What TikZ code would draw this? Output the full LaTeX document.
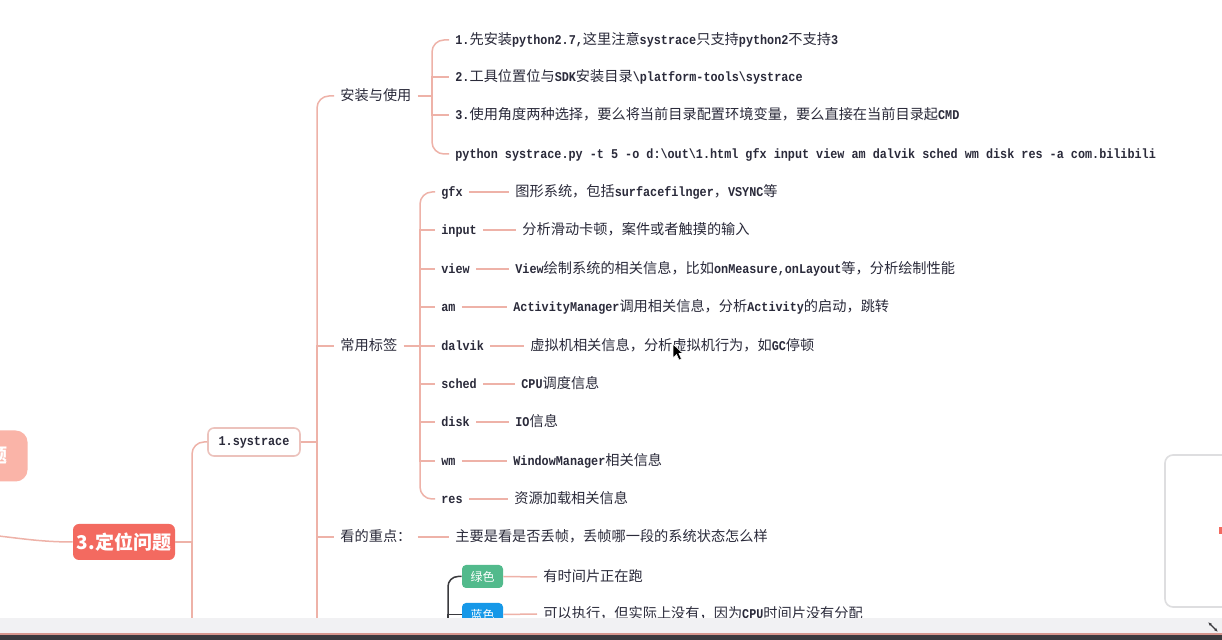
\documentclass[tikz,border=0pt]{standalone}
\usepackage{fontspec}
\setmainfont{Noto Sans CJK SC}
\newfontfamily\latfont[FakeStretch=0.88]{Liberation Mono}
\usepackage{tikz}
\usetikzlibrary{arrows.meta,positioning}
\definecolor{clrBranch}{RGB}{238,178,168}
\definecolor{clrTopic}{RGB}{243,106,96}
\definecolor{clrTopicPale}{RGB}{250,180,168}
\definecolor{clrSysEdge}{RGB}{236,194,188}
\definecolor{clrText}{RGB}{42,42,58}
\definecolor{clrGreen}{RGB}{82,186,140}
\definecolor{clrBlue}{RGB}{22,152,232}
\definecolor{clrDark}{RGB}{58,58,62}
\definecolor{clrBar}{RGB}{241,241,243}
\definecolor{clrBarLine}{RGB}{214,150,142}
\definecolor{clrPanel}{RGB}{222,222,224}
\newcommand{\lat}[1]{{\fontsize{6.7}{8}\latfont\bfseries #1}}
\tikzset{
  branch/.style={draw=clrBranch, line width=0.75pt},
  darkbranch/.style={draw=clrDark, line width=0.75pt},
  topicnode/.style={fill=clrTopic, text=white, rounded corners=3pt, font=\fontsize{9.5}{11}\selectfont\bfseries, minimum width=51pt, minimum height=18pt, inner sep=0pt},
  sysnode/.style={draw=clrSysEdge, fill=white, line width=0.8pt, rounded corners=3pt, minimum width=46pt, minimum height=14pt, inner sep=0pt, text=clrText},
  txtnode/.style={anchor=west, inner sep=3pt, text=clrText, text height=6pt, text depth=1.2pt, font=\fontsize{7.1}{9}\selectfont},
  colornode/.style={text=white, rounded corners=2pt, minimum width=20.5pt, minimum height=11.5pt, inner sep=0pt, font=\fontsize{6}{7}\selectfont}
}
\begin{document}
\begin{tikzpicture}[x=0.5pt, y=-0.5pt]

\useasboundingbox (0,0) rectangle (1222,640);
\clip (0,0) rectangle (1222,640);
\fill[white] (0,0) rectangle (1222,640);

\node[topicnode, fill=clrTopicPale, anchor=east, minimum height=25.5pt, text width=40pt, align=right, inner xsep=10pt, rounded corners=6pt]
  (prevtopic) at (28,456) {题};
\node[topicnode] (locate) at (124,542) {3.定位问题};
\node[sysnode] (sys) at (254,442) {\lat{1.systrace}};

\node[txtnode] (install) at (334,96) {安装与使用};
\node[txtnode] (inst1) at (449,40) {\lat{1.}先安装\lat{python2.7,}这里注意\lat{systrace}只支持\lat{python2}不支持\lat{3}};
\node[txtnode] (inst2) at (449,77) {\lat{2.}工具位置位与\lat{SDK}安装目录\lat{\textbackslash platform-tools\textbackslash systrace}};
\node[txtnode] (inst3) at (449,115) {\lat{3.}使用角度两种选择，要么将当前目录配置环境变量，要么直接在当前目录起\lat{CMD}};
\node[txtnode] (inst4) at (449,154) {\lat{python systrace.py -t 5 -o d:\textbackslash out\textbackslash 1.html gfx input view am dalvik sched wm disk res -a com.bilibili}};

\node[txtnode] (tags) at (334,346) {常用标签};
\node[txtnode] (gfx) at (435,192) {\lat{gfx}};
\node[txtnode] (input) at (435,230) {\lat{input}};
\node[txtnode] (view) at (435,269) {\lat{view}};
\node[txtnode] (am) at (435,307) {\lat{am}};
\node[txtnode] (dalvik) at (435,346) {\lat{dalvik}};
\node[txtnode] (sched) at (435,384) {\lat{sched}};
\node[txtnode] (disk) at (435,422) {\lat{disk}};
\node[txtnode] (wm) at (435,461) {\lat{wm}};
\node[txtnode] (res) at (435,499) {\lat{res}};

\node[txtnode] (gfxNote) at (509,192) {图形系统，包括\lat{surfacefilnger}，\lat{VSYNC}等};
\node[txtnode] (inputNote) at (516,230) {分析滑动卡顿，案件或者触摸的输入};
\node[txtnode] (viewNote) at (509,269) {\lat{View}绘制系统的相关信息，比如\lat{onMeasure,onLayout}等，分析绘制性能};
\node[txtnode] (amNote) at (507,307) {\lat{ActivityManager}调用相关信息，分析\lat{Activity}的启动，跳转};
\node[txtnode] (dalvikNote) at (524,346) {虚拟机相关信息，分析虚拟机行为，如\lat{GC}停顿};
\node[txtnode] (schedNote) at (515,384) {\lat{CPU}调度信息};
\node[txtnode] (diskNote) at (509,422) {\lat{IO}信息};
\node[txtnode] (wmNote) at (507,461) {\lat{WindowManager}相关信息};
\node[txtnode] (resNote) at (508,499) {资源加载相关信息};

\node[txtnode] (focus) at (334,537) {看的重点：};
\node[txtnode] (focusNote) at (449,537) {主要是看是否丢帧，丢帧哪一段的系统状态怎么样};

\node[colornode, fill=clrGreen] (green) at (482.5,576.5) {绿色};
\node[colornode, fill=clrBlue] (blue) at (482.5,614.5) {蓝色};
\node[txtnode] (greenNote) at (537,577) {有时间片正在跑};
\node[txtnode] (blueNote) at (537,614) {可以执行，但实际上没有，因为\lat{CPU}时间片没有分配};

\coordinate (root) at (-50,533);
\coordinate (locHub) at (192,542);
\coordinate (locLow) at (192,660);
\coordinate (sysHub) at (317,442);
\coordinate (sysLow) at (317,660);
\coordinate (instHub) at (432,96);
\coordinate (tagHub) at (420,346);
\coordinate (colHub) at (448,660);

\draw[branch] (root) to[out=0, in=180] (locate.west);
\draw[branch] (locate.east) -- (locHub) -- (locLow);
\draw[branch, rounded corners=6] (locHub) |- (sys.west);

\draw[branch] (sys.east) -- (sysHub) -- (sysLow);
\draw[branch, rounded corners=6] (sysHub) |- (install.west);
\draw[branch] (sysHub) |- (tags.west);
\draw[branch] (sysHub) |- (focus.west);

\draw[branch] (install.east) -- (instHub);
\draw[branch, rounded corners=6] (instHub) |- (inst1.west);
\draw[branch] (instHub) |- (inst2.west);
\draw[branch] (instHub) |- (inst3.west);
\draw[branch, rounded corners=6] (instHub) |- (inst4.west);

\draw[branch] (tags.east) -- (tagHub);
\draw[branch, rounded corners=6] (tagHub) |- (gfx.west);
\foreach \t in {input,view,am,dalvik,sched,disk,wm}
  \draw[branch] (tagHub) |- (\t.west);
\draw[branch, rounded corners=6] (tagHub) |- (res.west);
\foreach \t in {gfx,input,view,am,dalvik,sched,disk,wm,res}
  \draw[branch] (\t.east) -- (\t Note.west);

\draw[branch] (focus.east) -- (focusNote.west);

\draw[darkbranch, rounded corners=5] (colHub) |- (green.west);
\draw[darkbranch] (colHub) |- (blue.west);
\draw[branch] (green.east) -- (greenNote.west);
\draw[branch] (blue.east) -- (blueNote.west);

\filldraw[fill=black, draw=white, line width=0.3pt] (673,344) -- (673,358) -- (676.5,354.5) -- (679,360) -- (681.5,359) -- (679,353.5) -- (683,353.5) -- cycle;

\draw[draw=clrPanel, fill=white, line width=0.8pt, rounded corners=4pt] (1165,455) rectangle (1240,607);
\fill[clrTopic] (1219,527) rectangle (1223,534);

\fill[clrBar] (0,618) rectangle (1222,633);
\fill[clrBarLine] (0,633) rectangle (1222,635.5);
\fill[clrDark] (0,635.5) rectangle (1222,640);
\draw[clrDark, line width=0.6pt, {Latex[length=2pt]}-{Latex[length=2pt]}] (1208,622) -- (1218,632);

\end{tikzpicture}
\end{document}
